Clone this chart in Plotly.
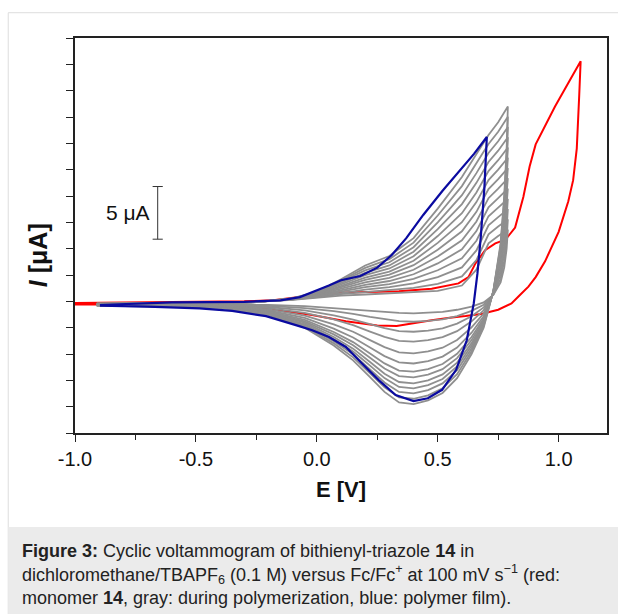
import plotly.graph_objects as go

# ---------------- data ----------------
# red: monomer 14
red_E = [-1.0, -0.6, -0.3, -0.18, -0.04, 0.035, 0.15, 0.25, 0.34, 0.475, 0.586, 0.627, 0.656,
         0.696, 0.738, 0.78, 0.82, 0.854, 0.88, 0.905, 0.94, 0.985, 1.044, 1.091,
         1.085, 1.075, 1.06, 1.04, 1.0, 0.944, 0.905, 0.875, 0.84, 0.805, 0.75, 0.68, 0.615,
         0.55, 0.475, 0.4, 0.33, 0.25, 0.12, -0.02, -0.155, -0.3, -0.5, -0.7, -1.0]
red_I = [-0.15, -0.1, 0.0, 0.1, 0.5, 0.8, 0.85, 0.9, 0.95, 1.2, 1.7, 2.3, 3.6,
         4.85, 5.5, 5.85, 7.0, 9.9, 12.8, 14.9, 16.5, 18.5, 20.9, 22.8,
         19.5, 14.5, 11.5, 9.5, 6.6, 3.8, 2.3, 1.4, 0.6, -0.2, -0.8, -1.2, -1.4,
         -1.55, -1.8, -2.1, -2.35, -2.3, -1.9, -1.3, -0.85, -0.5, -0.35, -0.3, -0.3]

# blue: polymer film
blue_E = [-0.897, -0.6, -0.3, -0.15, -0.07, 0.0, 0.05, 0.1, 0.18, 0.25, 0.31, 0.37, 0.44,
          0.52, 0.59, 0.65, 0.703,
          0.693, 0.678, 0.664, 0.649, 0.62, 0.576, 0.518, 0.459, 0.4, 0.326, 0.257, 0.187,
          0.12, 0.05, -0.019, -0.073, -0.21, -0.35, -0.485, -0.7, -0.897]
blue_I = [-0.35, -0.1, -0.05, 0.1, 0.4, 1.0, 1.5, 2.0, 2.4, 3.2, 4.4, 6.0, 8.2,
          10.5, 12.4, 14.0, 15.6,
          10.8, 6.1, 2.6, -0.2, -3.7, -6.5, -8.4, -9.2, -9.47, -8.9, -7.5, -5.9,
          -4.33, -3.38, -2.74, -2.35, -1.41, -0.9, -0.66, -0.5, -0.4]

# gray: cycles during polymerization (13 cycles); each row = one potential, one value per cycle
gray_E_fwd = [-0.91, -0.5, -0.25, -0.1, 0.0, 0.1, 0.2, 0.3, 0.4, 0.5, 0.6, 0.66, 0.71, 0.75, 0.79]
gray_fwd_rows = [
    [-0.2, -0.21, -0.23, -0.24, -0.25, -0.26, -0.28, -0.29, -0.3, -0.31, -0.33, -0.34, -0.35],
    [-0.15, -0.16, -0.17, -0.18, -0.18, -0.19, -0.2, -0.21, -0.22, -0.23, -0.23, -0.24, -0.25],
    [-0.05, -0.05, -0.05, -0.06, -0.06, -0.06, -0.06, -0.07, -0.07, -0.07, -0.07, -0.08, -0.08],
    [0.15, 0.16, 0.18, 0.19, 0.2, 0.21, 0.23, 0.24, 0.25, 0.26, 0.28, 0.29, 0.3],
    [0.35, 0.4, 0.44, 0.49, 0.53, 0.58, 0.63, 0.67, 0.72, 0.76, 0.81, 0.85, 0.9],
    [0.55, 0.68, 0.81, 0.94, 1.07, 1.2, 1.33, 1.45, 1.58, 1.71, 1.84, 1.97, 2.1],
    [0.65, 0.88, 1.11, 1.34, 1.57, 1.8, 2.03, 2.25, 2.48, 2.71, 2.94, 3.17, 3.4],
    [0.75, 1.05, 1.34, 1.64, 1.93, 2.23, 2.53, 2.82, 3.12, 3.41, 3.71, 4.0, 4.3],
    [0.85, 1.28, 1.71, 2.14, 2.57, 3.0, 3.43, 3.85, 4.28, 4.71, 5.14, 5.57, 6.0],
    [1.0, 1.65, 2.3, 2.95, 3.6, 4.25, 4.9, 5.55, 6.2, 6.85, 7.5, 8.15, 8.8],
    [1.5, 2.36, 3.22, 4.08, 4.93, 5.79, 6.65, 7.51, 8.37, 9.23, 10.08, 10.94, 11.8],
    [3.0, 3.92, 4.83, 5.75, 6.67, 7.58, 8.5, 9.42, 10.33, 11.25, 12.17, 13.08, 14.0],
    [5.5, 6.36, 7.22, 8.08, 8.93, 9.79, 10.65, 11.51, 12.37, 13.23, 14.08, 14.94, 15.8],
    [6.2, 7.1, 8.0, 8.9, 9.8, 10.7, 11.6, 12.5, 13.4, 14.3, 15.2, 16.1, 17.0],
    [6.8, 7.78, 8.75, 9.73, 10.7, 11.68, 12.65, 13.63, 14.6, 15.58, 16.55, 17.53, 18.5],
]
gray_E_rev = [0.785, 0.775, 0.76, 0.73, 0.69, 0.64, 0.58, 0.52, 0.46, 0.4, 0.34, 0.28, 0.22,
              0.15, 0.07, -0.05, -0.2, -0.4, -0.91]
gray_rev_rows = [
    [5.0, 5.87, 6.92, 7.96, 9.19, 10.24, 11.11, 11.71, 12.33, 12.86, 13.38, 13.95, 14.5],
    [3.2, 3.83, 4.57, 5.32, 6.2, 6.95, 7.57, 8.0, 8.45, 8.82, 9.2, 9.61, 10.0],
    [1.8, 2.14, 2.55, 2.95, 3.43, 3.84, 4.18, 4.41, 4.66, 4.86, 5.06, 5.29, 5.5],
    [0.6, 0.64, 0.68, 0.72, 0.78, 0.82, 0.86, 0.88, 0.91, 0.93, 0.95, 0.98, 1.0],
    [-0.1, -0.32, -0.58, -0.85, -1.16, -1.42, -1.64, -1.79, -1.95, -2.08, -2.22, -2.36, -2.5],
    [-0.5, -0.91, -1.41, -1.9, -2.48, -2.98, -3.39, -3.68, -3.97, -4.22, -4.47, -4.74, -5.0],
    [-0.8, -1.4, -2.11, -2.83, -3.67, -4.39, -4.98, -5.39, -5.82, -6.18, -6.53, -6.92, -7.3],
    [-1.0, -1.71, -2.56, -3.4, -4.4, -5.25, -5.95, -6.44, -6.94, -7.37, -7.79, -8.25, -8.7],
    [-1.1, -1.86, -2.78, -3.69, -4.76, -5.68, -6.44, -6.96, -7.51, -7.96, -8.42, -8.92, -9.4],
    [-1.15, -1.94, -2.89, -3.83, -4.94, -5.9, -6.68, -7.22, -7.79, -8.26, -8.74, -9.25, -9.75],
    [-1.1, -1.88, -2.82, -3.75, -4.85, -5.79, -6.57, -7.1, -7.66, -8.13, -8.6, -9.11, -9.6],
    [-1.0, -1.7, -2.54, -3.37, -4.35, -5.2, -5.89, -6.37, -6.87, -7.29, -7.7, -8.16, -8.6],
    [-0.9, -1.48, -2.17, -2.87, -3.68, -4.38, -4.95, -5.35, -5.76, -6.11, -6.46, -6.83, -7.2],
    [-0.75, -1.2, -1.73, -2.26, -2.89, -3.43, -3.87, -4.17, -4.49, -4.76, -5.03, -5.32, -5.6],
    [-0.6, -0.93, -1.33, -1.72, -2.19, -2.59, -2.91, -3.14, -3.38, -3.58, -3.78, -3.99, -4.2],
    [-0.45, -0.64, -0.86, -1.09, -1.35, -1.58, -1.77, -1.9, -2.03, -2.15, -2.26, -2.38, -2.5],
    [-0.35, -0.44, -0.54, -0.65, -0.77, -0.87, -0.96, -1.02, -1.08, -1.14, -1.19, -1.24, -1.3],
    [-0.3, -0.33, -0.36, -0.4, -0.44, -0.48, -0.51, -0.53, -0.55, -0.56, -0.58, -0.6, -0.62],
    [-0.3, -0.31, -0.32, -0.33, -0.34, -0.36, -0.36, -0.37, -0.38, -0.38, -0.39, -0.39, -0.4],
]

x_tick_vals = [-1.0, -0.5, 0.0, 0.5, 1.0]
x_tick_text = ["-1.0", "-0.5", "0.0", "0.5", "1.0"]
y_tick_vals = [-12.5, -10, -7.5, -5, -2.5, 0, 2.5, 5, 7.5, 10, 12.5, 15, 17.5, 20, 22.5, 25]
scale_bar_uA = 5

caption_lines = [
    "<b>Figure 3:</b> Cyclic voltammogram of bithienyl-triazole <b>14</b> in",
    "dichloromethane/TBAPF<sub>6</sub> (0.1 M) versus Fc/Fc<sup>+</sup> at 100 mV s<sup>\u22121</sup> (red:",
    "monomer <b>14</b>, gray: during polymerization, blue: polymer film).",
]

# ---------------- figure ----------------
FONT = "Liberation Sans, Arial, sans-serif"
fig = go.Figure()

fig.add_trace(go.Scatter(x=red_E, y=red_I, mode="lines",
                         line=dict(color="#ff0000", width=2), hoverinfo="skip"))

n_cycles = len(gray_fwd_rows[0])
for k in range(n_cycles):
    gx = gray_E_fwd + gray_E_rev
    gy = [row[k] for row in gray_fwd_rows] + [row[k] for row in gray_rev_rows]
    fig.add_trace(go.Scatter(x=gx, y=gy, mode="lines",
                             line=dict(color="#8f8f8f", width=1.8), hoverinfo="skip"))

fig.add_trace(go.Scatter(x=blue_E, y=blue_I, mode="lines",
                         line=dict(color="#0a0aa0", width=2.2), hoverinfo="skip"))

# scale bar (5 µA)
sb_x, sb_y0 = -0.658, 5.9
fig.add_shape(type="line", xref="x", yref="y", x0=sb_x, x1=sb_x, y0=sb_y0, y1=sb_y0 + scale_bar_uA,
              line=dict(color="#333333", width=1))
for yy in (sb_y0, sb_y0 + scale_bar_uA):
    fig.add_shape(type="line", xref="x", yref="y", x0=sb_x - 0.021, x1=sb_x + 0.021, y0=yy, y1=yy,
                  line=dict(color="#333333", width=1))
fig.add_annotation(x=-0.782, y=sb_y0 + scale_bar_uA / 2, xref="x", yref="y", text="5 \u03bcA",
                   showarrow=False, xanchor="center", yanchor="middle",
                   font=dict(family=FONT, size=21, color="#111111"))

# figure border and caption box
fig.add_shape(type="rect", xref="paper", yref="paper", x0=-0.1255, x1=1.03, y0=-0.5, y1=1.064,
              line=dict(color="#dddddd", width=1), fillcolor="rgba(0,0,0,0)", layer="below")
fig.add_shape(type="rect", xref="paper", yref="paper", x0=-0.1255, x1=1.03, y0=-0.5, y1=-0.238,
              line=dict(width=0), fillcolor="#ebebeb", layer="below")
cap_y = [-0.299, -0.359, -0.418]
for txt, yy in zip(caption_lines, cap_y):
    fig.add_annotation(x=-0.103, y=yy, xref="paper", yref="paper", text=txt, showarrow=False,
                       xanchor="left", yanchor="middle", align="left",
                       font=dict(family=FONT, size=18, color="#222222"))

# axis titles
fig.add_annotation(x=0.5, y=-0.142, xref="paper", yref="paper", text="<b>E [V]</b>",
                   showarrow=False, xanchor="center", yanchor="middle",
                   font=dict(family=FONT, size=22, color="#111111"))
fig.add_annotation(x=-0.069, y=0.451, xref="paper", yref="paper",
                   text="<b><i>I</i> [\u03bcA]</b>", textangle=-90,
                   showarrow=False, xanchor="center", yanchor="middle",
                   font=dict(family=FONT, size=25, color="#111111"))

fig.update_xaxes(range=[-1.0, 1.2], showline=True, linecolor="#222222", linewidth=1.5, mirror=True,
                 ticks="outside", ticklen=7, tickwidth=1.3, tickcolor="#222222",
                 tickvals=x_tick_vals, ticktext=x_tick_text,
                 tickfont=dict(family=FONT, size=20, color="#111111"),
                 minor=dict(dtick=0.25, tick0=-1.0, ticks="outside", ticklen=5, tickwidth=1.3,
                            tickcolor="#222222", showgrid=False),
                 showgrid=False, zeroline=False)
fig.update_yaxes(range=[-12.5, 25], showline=True, linecolor="#222222", linewidth=1.5, mirror=True,
                 ticks="outside", ticklen=7, tickwidth=1.3, tickcolor="#222222",
                 tickvals=y_tick_vals, showticklabels=False,
                 showgrid=False, zeroline=False)

fig.update_layout(width=618, height=614, showlegend=False,
                  margin=dict(l=75, r=9, t=38, b=181),
                  paper_bgcolor="white", plot_bgcolor="white",
                  font=dict(family=FONT))

fig.write_html("out.html", config={"displayModeBar": False},
               post_script="document.body.style.margin='0';document.body.style.overflow='hidden';")
